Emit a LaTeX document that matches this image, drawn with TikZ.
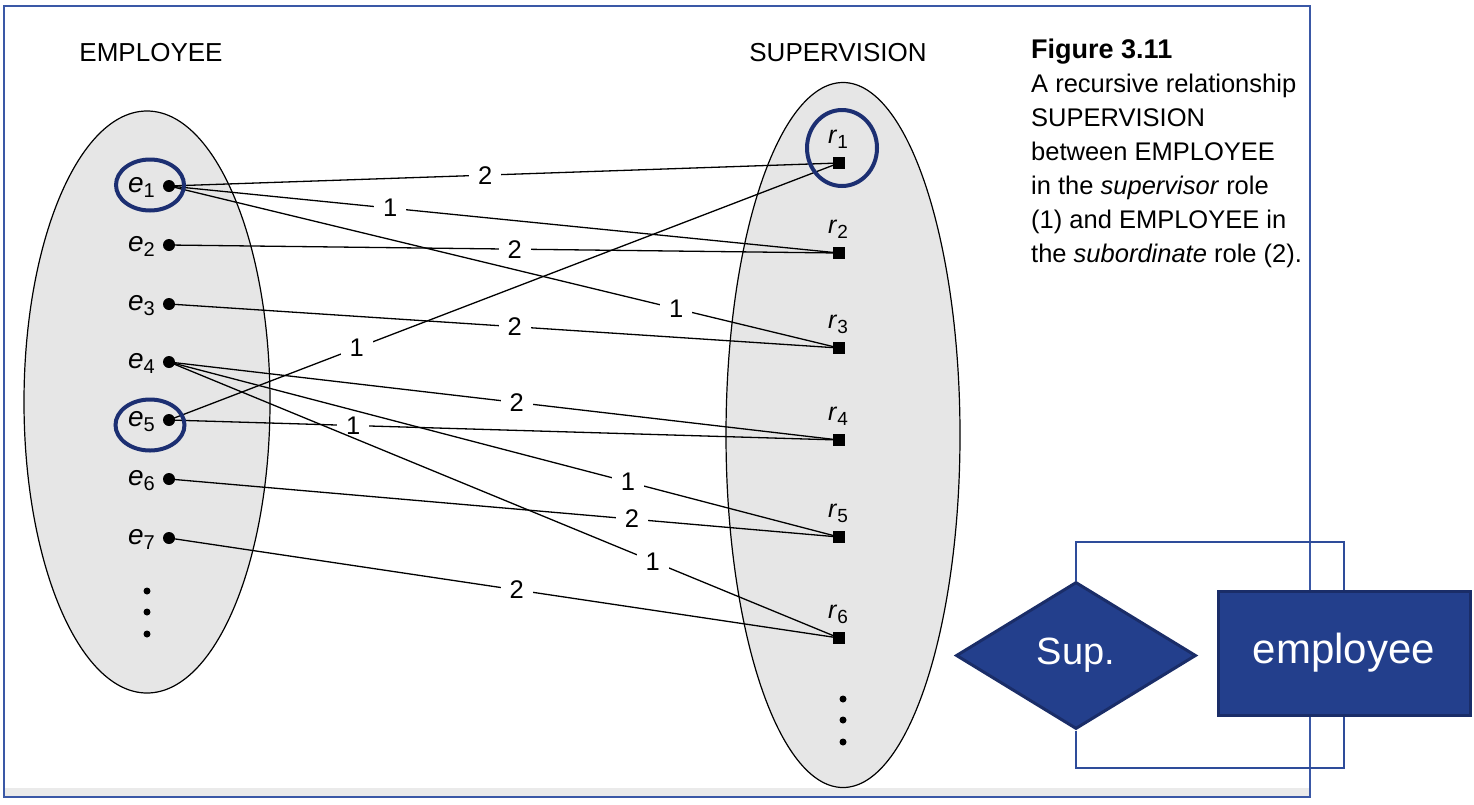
\documentclass[tikz,border=0pt]{standalone}
\usepackage{fontspec}
\setmainfont{Liberation Sans}
\usetikzlibrary{shapes.geometric}
\definecolor{framecol}{HTML}{3A58A6}
\definecolor{conncol}{HTML}{2E4C9A}
\definecolor{midblue}{HTML}{233F8C}
\definecolor{dkblue}{HTML}{1A2D68}
\definecolor{hlcol}{HTML}{1C2F72}
\definecolor{ellgray}{HTML}{E6E6E6}
\definecolor{bandgray}{HTML}{EAEAEA}
\newcommand\esub[1]{\raisebox{-5pt}{\fontsize{20}{20}\selectfont #1}}
\newcommand\rsub[1]{\raisebox{-5pt}{\fontsize{19}{19}\selectfont #1}}
\begin{document}
\begin{tikzpicture}[x=1pt,y=-1pt,
  setlab/.style={font=\fontsize{26}{30}\selectfont,inner sep=0pt},
  caplab/.style={font=\fontsize{25.5}{30}\selectfont,inner sep=0pt,anchor=base west},
  elab/.style={font=\fontsize{28}{30}\selectfont,inner sep=0pt,anchor=base east},
  rlab/.style={font=\fontsize{25}{28}\selectfont,inner sep=0pt,anchor=base},
  edge/.style={line width=1.3pt,black},
  numlab/.style={fill=white,inner xsep=9pt,inner ysep=1pt,font=\fontsize{25.5}{30}\selectfont},
  dotnode/.style={circle,fill=black,inner sep=0pt,minimum size=12pt},
  smalldot/.style={circle,fill=black,inner sep=0pt,minimum size=7pt},
  sqnode/.style={rectangle,fill=black,inner sep=0pt,minimum size=12pt},
  setell/.style={ellipse,draw=black,fill=ellgray,line width=1.2pt,inner sep=0pt},
  hl/.style={ellipse,draw=hlcol,line width=4pt,inner sep=0pt},
  conn/.style={draw=conncol,line width=1.6pt},
  bluebox/.style={draw=dkblue,fill=midblue,line width=3pt,text=white,inner sep=0pt},
]
\useasboundingbox (0,0) rectangle (1474,804);
\fill[white] (0,0) rectangle (1474,804);
\fill[bandgray] (4,788) rectangle (1310,797);
\draw[framecol,line width=2pt] (4,6) rectangle (1310,797);

% set ellipses
\node[setell,minimum width=246pt,minimum height=582pt] (empset) at (147,402) {};
\node[setell,minimum width=234pt,minimum height=705pt] (supset) at (843,435) {};

\node[setlab,anchor=base] (tEmp) at (151,61) {EMPLOYEE};
\node[setlab,anchor=base] (tSup) at (838,61) {SUPERVISION};

% employee points
\foreach \i/\y in {1/186,2/245,3/304,4/362,5/420,6/479,7/538}{
  \node[dotnode] (e\i) at (169,\y) {};
  \node[elab] (le\i) at (155,\y+6) {\textit{e}\esub{\i}};
}
\node[smalldot] (ed1) at (147,591) {};
\node[smalldot] (ed2) at (147,612) {};
\node[smalldot] (ed3) at (147,634) {};

% relationship instances
\foreach \i/\y in {1/163,2/253,3/348,4/440,5/537,6/638}{
  \node[sqnode] (r\i) at (839,\y) {};
  \node[rlab] (lr\i) at (838,\y-20) {\textit{r}\rsub{\i}};
}
\node[smalldot] (rd1) at (843,699) {};
\node[smalldot] (rd2) at (843,720) {};
\node[smalldot] (rd3) at (843,742) {};

% edges
\draw[edge] (e1.center) -- node[numlab,pos=0.472]{2} (r1.center);
\draw[edge] (e1.center) -- node[numlab,pos=0.33]{1} (r2.center);
\draw[edge] (e1.center) -- node[numlab,pos=0.757]{1} (r3.center);
\draw[edge] (e2.center) -- node[numlab,pos=0.516]{2} (r2.center);
\draw[edge] (e3.center) -- node[numlab,pos=0.516]{2} (r3.center);
\draw[edge] (e5.center) -- node[numlab,pos=0.28]{1} (r1.center);
\draw[edge] (e4.center) -- node[numlab,pos=0.519]{2} (r4.center);
\draw[edge] (e5.center) -- node[numlab,pos=0.275]{1} (r4.center);
\draw[edge] (e4.center) -- node[numlab,pos=0.685]{1} (r5.center);
\draw[edge] (e6.center) -- node[numlab,pos=0.691]{2} (r5.center);
\draw[edge] (e4.center) -- node[numlab,pos=0.722]{1} (r6.center);
\draw[edge] (e7.center) -- node[numlab,pos=0.519]{2} (r6.center);

% highlight circles
\node[hl,minimum width=68pt,minimum height=51pt] (h1) at (150,185) {};
\node[hl,minimum width=69pt,minimum height=51pt] (h5) at (150,425) {};
\node[hl,minimum width=70pt,minimum height=76pt] (hr1) at (842,148) {};

% caption
\node[caplab] (c0) at (1031,58) {\fontsize{27}{30}\selectfont\bfseries Figure 3.11};
\node[caplab] (c1) at (1031,92) {A recursive relationship};
\node[caplab] (c2) at (1031,126) {SUPERVISION};
\node[caplab] (c3) at (1031,160) {between EMPLOYEE};
\node[caplab] (c4) at (1031,194) {in the \textit{supervisor} role};
\node[caplab] (c5) at (1031,228) {(1) and EMPLOYEE in};
\node[caplab] (c6) at (1031,262) {the \textit{subordinate} role (2).};

% ER notation
\node[bluebox,diamond,minimum width=240pt,minimum height=147pt,font=\fontsize{38}{40}\selectfont] (sup) at (1076,655.5) {Sup.};
\node[bluebox,rectangle,minimum width=252pt,minimum height=124pt,font=\fontsize{42}{46}\selectfont] (emp) at (1344,653) {employee};
\coordinate (ctop) at (1200,542);
\coordinate (cbot) at (1200,768);
\draw[conn] (sup.north) -- (sup.north |- ctop) -- (emp.north |- ctop) -- (emp.north);
\draw[conn] (sup.south) -- (sup.south |- cbot) -- (emp.south |- cbot) -- (emp.south);
\end{tikzpicture}
\end{document}
